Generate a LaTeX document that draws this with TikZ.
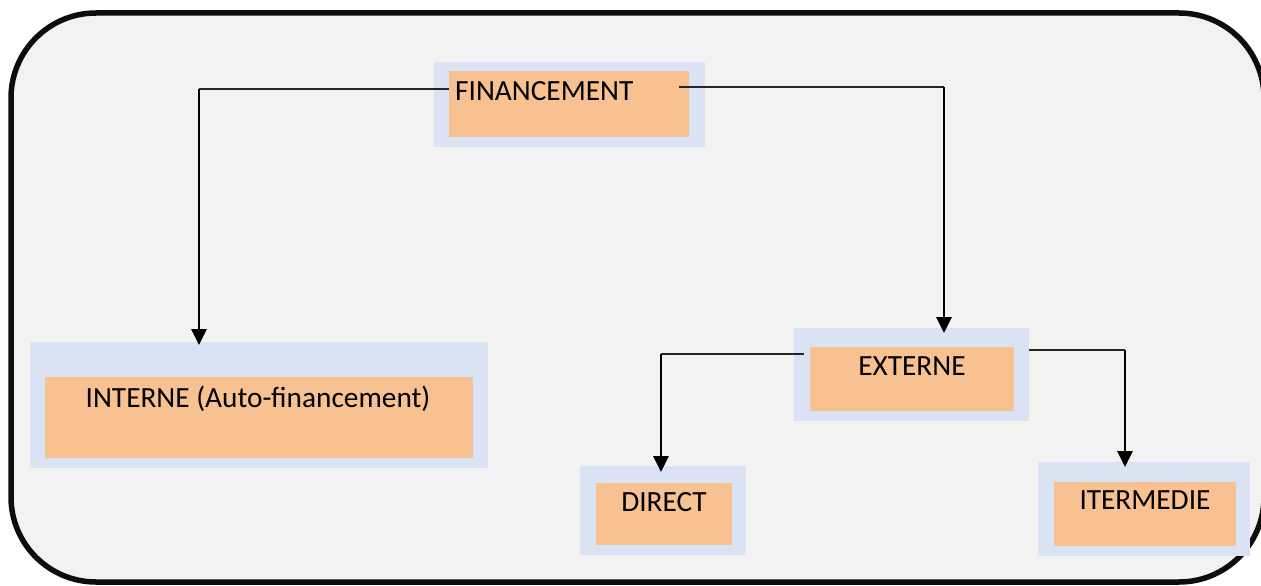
\documentclass[tikz,border=0pt]{standalone}
\usepackage{fontspec}
\setmainfont{Carlito}
\usetikzlibrary{arrows.meta}
\definecolor{bgfill}{HTML}{F2F2F2}
\definecolor{framecol}{HTML}{0D0D0D}
\definecolor{outerblue}{HTML}{DAE3F3}
\definecolor{innerorange}{HTML}{F8C191}
\begin{document}
\begin{tikzpicture}[x=1pt,y=-1pt,
  frame/.style={draw=framecol, fill=bgfill, line width=5.5pt, rounded corners=85pt,
    inner sep=0pt, outer sep=0pt, anchor=north west},
  outerbox/.style={fill=outerblue, draw=none, inner sep=0pt, outer sep=0pt, anchor=north west},
  innerbox/.style={fill=innerorange, draw=none, inner sep=0pt, outer sep=0pt, anchor=north west},
  lbl/.style={inner sep=0pt, font=\fontsize{29.3}{35}\selectfont, text=black},
  hline/.style={draw=black!85, line width=1.3pt},
  vline/.style={draw=black, line width=2.8pt, -{Triangle[width=15pt,length=16pt]}},
]
\useasboundingbox (0,0) rectangle (1261,586);
\node[frame, minimum width=1253pt, minimum height=569pt] (frm) at (11,13) {};

% FINANCEMENT
\node[outerbox, minimum width=271pt, minimum height=85pt] (finB) at (434,62) {};
\node[innerbox, minimum width=240pt, minimum height=66pt] (fin) at (449,71) {};
\node[lbl, anchor=base west] (finT) at (455,100) {FINANCEMENT};

% INTERNE
\node[outerbox, minimum width=458pt, minimum height=126pt] (intB) at (30,342) {};
\node[innerbox, minimum width=428pt, minimum height=81pt] (int) at (45,377) {};
\node[lbl, anchor=base] (intT) at (258,407) {INTERNE (Auto-financement)};

% EXTERNE
\node[outerbox, minimum width=235pt, minimum height=93pt] (extB) at (794,328) {};
\node[innerbox, minimum width=204pt, minimum height=64pt] (ext) at (810,347) {};
\node[lbl, anchor=base] (extT) at (912,375) {EXTERNE};

% DIRECT
\node[outerbox, minimum width=166pt, minimum height=89pt] (dirB) at (580,466) {};
\node[innerbox, minimum width=136pt, minimum height=62pt] (dir) at (596,483) {};
\node[lbl, anchor=base] (dirT) at (664,511) {DIRECT};

% ITERMEDIE
\node[outerbox, minimum width=212pt, minimum height=94pt] (itmB) at (1038,462) {};
\node[innerbox, minimum width=182pt, minimum height=64pt] (itm) at (1054,482) {};
\node[lbl, anchor=base] (itmT) at (1145,509) {ITERMEDIE};

% connector points
\coordinate (finL) at (449,89);
\coordinate (bendA) at (199,89);
\coordinate (finR) at (679,87);
\coordinate (bendB) at (944,87);
\coordinate (extL) at (804,354);
\coordinate (bendC) at (661,354);
\coordinate (extR) at (1029,350);
\coordinate (bendD) at (1125,350);

\draw[hline] (finL) -- (bendA);
\draw[vline, shorten >=-3pt] (bendA) -- (bendA |- intB.north);
\draw[hline] (finR) -- (bendB);
\draw[vline, shorten >=-5pt] (bendB) -- (bendB |- extB.north);
\draw[hline] (extL) -- (bendC);
\draw[vline, shorten >=-6pt] (bendC) -- (bendC |- dirB.north);
\draw[hline] (extR) -- (bendD);
\draw[vline, shorten >=-5pt] (bendD) -- (bendD |- itmB.north);
\end{tikzpicture}
\end{document}
